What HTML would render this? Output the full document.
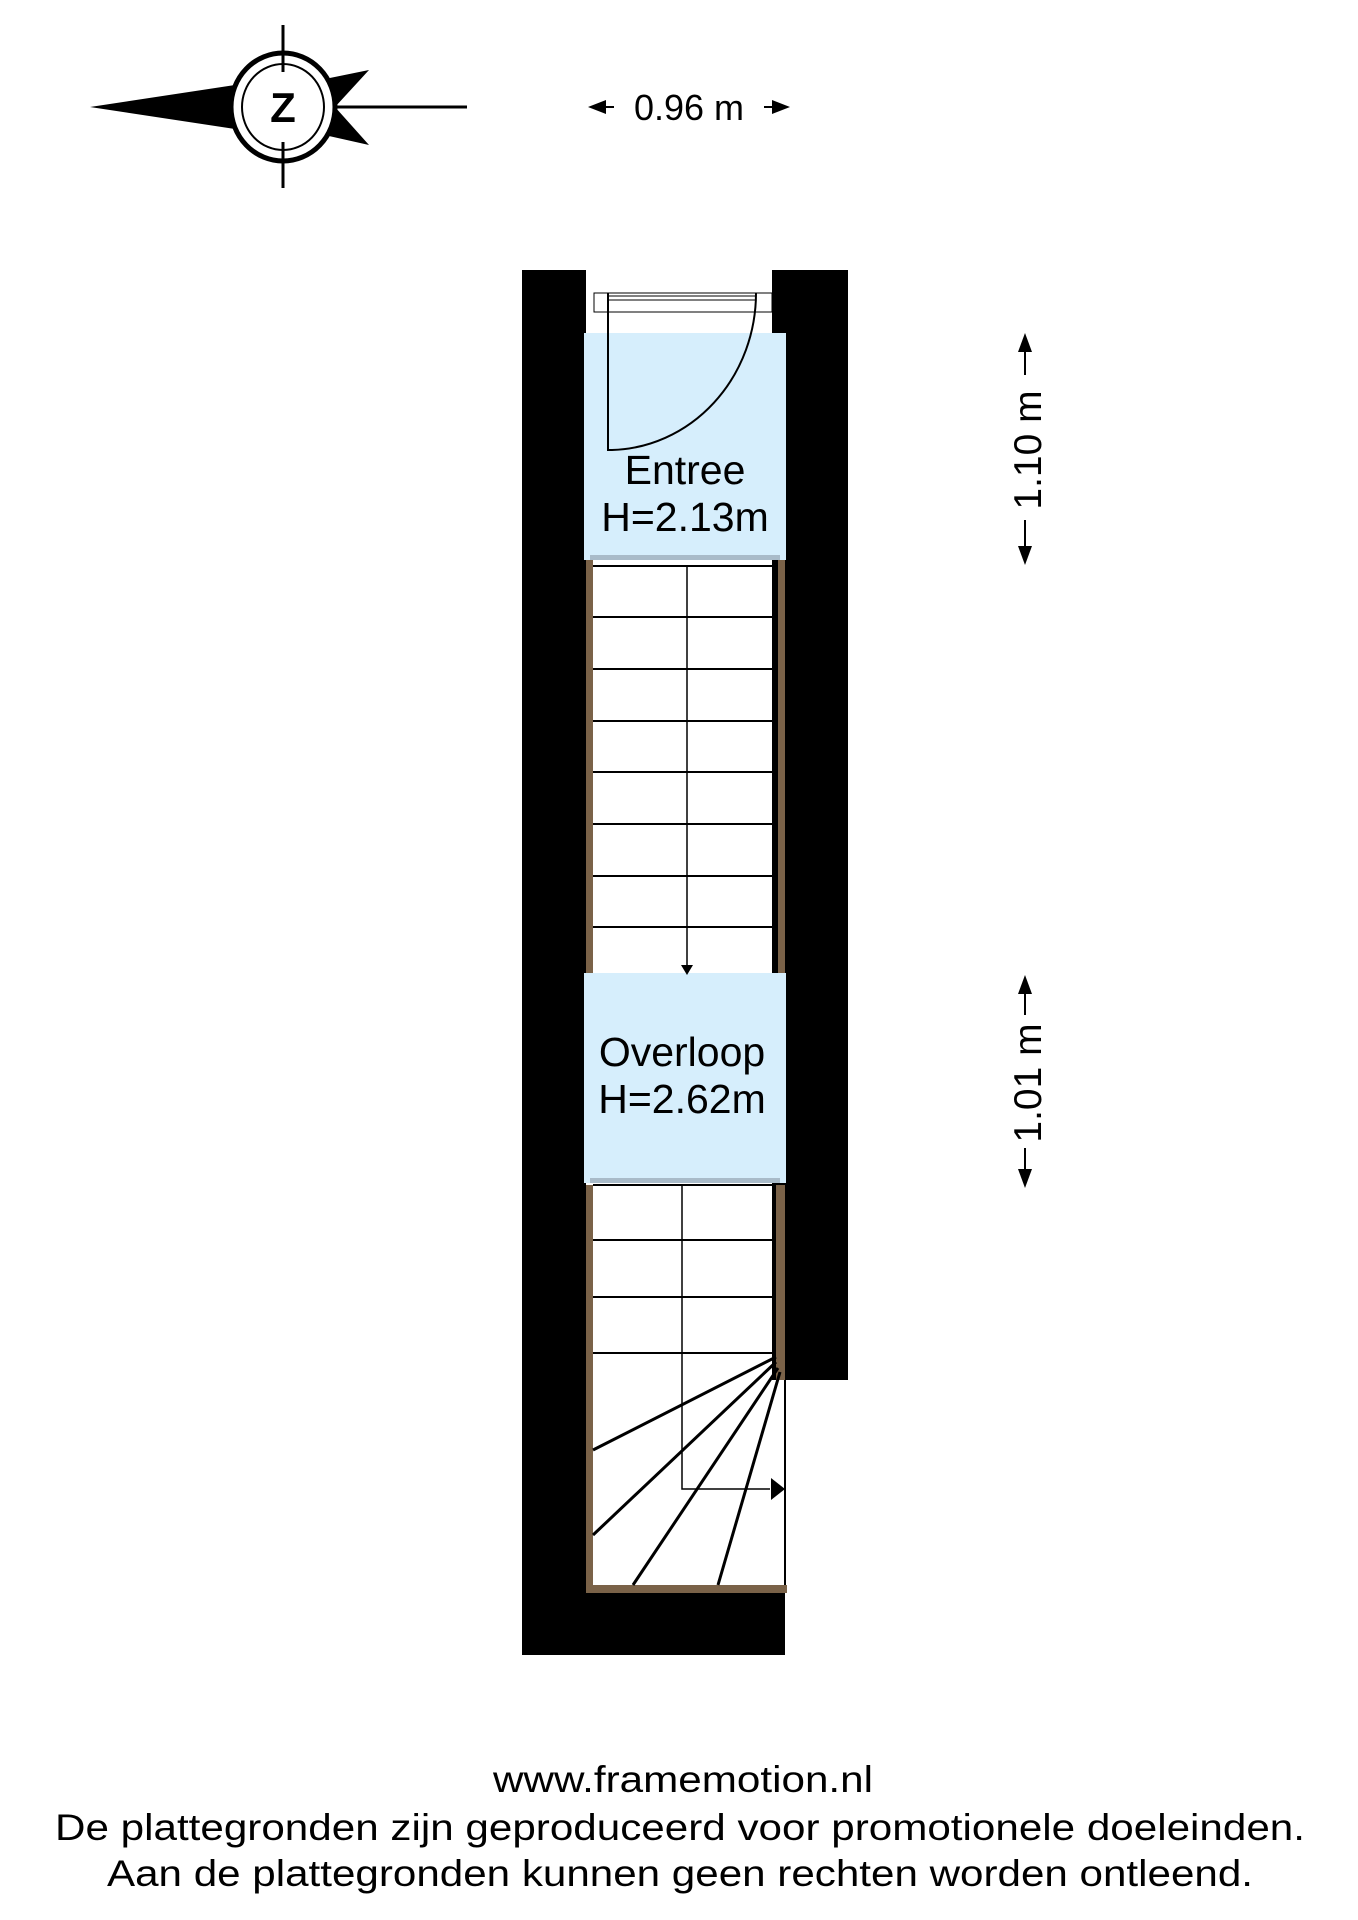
<!DOCTYPE html>
<html><head><meta charset="utf-8"><style>
html,body{margin:0;padding:0;background:#fff}
svg{display:block}
text{font-family:"Liberation Sans",sans-serif}
</style></head><body>
<svg width="1358" height="1920" viewBox="0 0 1358 1920" xmlns="http://www.w3.org/2000/svg">
<!-- compass -->
<line x1="283" y1="25" x2="283" y2="188" stroke="#000" stroke-width="3"/>
<polygon points="90,107 235,85 235,129" fill="#000"/>
<polygon points="320,80 369,70 335,107" fill="#000"/>
<polygon points="320,134 369,145 335,107" fill="#000"/>
<line x1="335" y1="107" x2="467" y2="107" stroke="#000" stroke-width="3"/>
<ellipse cx="283" cy="107" rx="52" ry="54" fill="#fff" stroke="#000" stroke-width="5"/>
<ellipse cx="283" cy="107" rx="41" ry="43" fill="none" stroke="#000" stroke-width="2"/>
<line x1="283" y1="50" x2="283" y2="72" stroke="#000" stroke-width="3"/>
<line x1="283" y1="142" x2="283" y2="165" stroke="#000" stroke-width="3"/>
<text x="283" y="122" font-size="42" font-weight="bold" text-anchor="middle">Z</text>
<!-- width dim -->
<polygon points="588,107 606,100 606,114" fill="#000"/><line x1="600" y1="107" x2="614" y2="107" stroke="#000" stroke-width="2"/>
<text x="689" y="120" font-size="36" text-anchor="middle">0.96 m</text>
<polygon points="790,107 772,100 772,114" fill="#000"/><line x1="764" y1="107" x2="778" y2="107" stroke="#000" stroke-width="2"/>
<!-- walls -->
<rect x="522" y="270" width="64" height="1385" fill="#000"/>
<rect x="522" y="1593" width="263" height="62" fill="#000"/>
<rect x="772" y="270" width="76" height="1110" fill="#000"/>
<rect x="586" y="270" width="186" height="63" fill="#fff"/>
<!-- door frame -->
<rect x="594" y="293" width="178" height="19" fill="#fff" stroke="#000" stroke-width="1"/>
<line x1="608" y1="296" x2="756" y2="296" stroke="#000" stroke-width="1"/>
<line x1="608" y1="300" x2="756" y2="300" stroke="#000" stroke-width="1"/>
<!-- rooms -->
<rect x="584" y="333" width="202" height="227" fill="#d6eefc"/>
<rect x="584" y="973" width="202" height="210" fill="#d6eefc"/>
<rect x="590" y="555" width="190" height="5" fill="#8a9aa6" opacity=".6"/>
<rect x="590" y="1178" width="190" height="5" fill="#8a9aa6" opacity=".6"/>
<!-- door -->
<path d="M608,293 L608,450 L612,450 A148,157 0 0 0 756,293" fill="none" stroke="#000" stroke-width="2"/>
<text x="685" y="484" font-size="41" text-anchor="middle">Entree</text>
<text x="685" y="531" font-size="41" text-anchor="middle">H=2.13m</text>
<text x="682" y="1066" font-size="41" text-anchor="middle">Overloop</text>
<text x="682" y="1113" font-size="41" text-anchor="middle">H=2.62m</text>
<!-- upper stairs -->
<rect x="586" y="560" width="7" height="413" fill="#7a6248"/>
<rect x="778" y="560" width="7" height="413" fill="#7a6248"/>
<g stroke="#000" stroke-width="2">
<line x1="593" y1="566" x2="778" y2="566"/>
<line x1="593" y1="617" x2="778" y2="617"/>
<line x1="593" y1="669" x2="778" y2="669"/>
<line x1="593" y1="721" x2="778" y2="721"/>
<line x1="593" y1="772" x2="778" y2="772"/>
<line x1="593" y1="824" x2="778" y2="824"/>
<line x1="593" y1="876" x2="778" y2="876"/>
<line x1="593" y1="927" x2="778" y2="927"/>
<line x1="687" y1="566" x2="687" y2="968" stroke-width="1.5"/>
</g>
<polygon points="681,965 693,965 687,975" fill="#000"/>
<!-- lower stairs -->
<rect x="586" y="1185" width="7" height="408" fill="#7a6248"/>
<rect x="776" y="1185" width="9" height="195" fill="#7a6248"/>
<rect x="586" y="1585" width="201" height="8" fill="#7a6248"/>
<line x1="785" y1="1380" x2="785" y2="1585" stroke="#000" stroke-width="2"/>
<g stroke="#000" stroke-width="2">
<line x1="593" y1="1185" x2="776" y2="1185"/>
<line x1="593" y1="1240" x2="776" y2="1240"/>
<line x1="593" y1="1297" x2="776" y2="1297"/>
<line x1="593" y1="1353" x2="776" y2="1353"/>
<line x1="776" y1="1357" x2="593" y2="1450" stroke-width="3"/>
<line x1="776" y1="1362" x2="593" y2="1535" stroke-width="3"/>
<line x1="778" y1="1368" x2="633" y2="1585" stroke-width="3"/>
<line x1="780" y1="1372" x2="718" y2="1585" stroke-width="3"/>
<polyline points="682,1185 682,1489 770,1489" fill="none" stroke-width="1.5"/>
</g>
<polygon points="771,1478 785,1489 771,1500" fill="#000"/>
<!-- vertical dims -->
<g transform="translate(1041,450) rotate(-90)"><text x="0" y="0" font-size="39" text-anchor="middle">1.10 m</text></g>
<polygon points="1025,333 1018,352 1032,352" fill="#000"/><line x1="1025" y1="350" x2="1025" y2="375" stroke="#000" stroke-width="2"/>
<polygon points="1025,565 1018,546 1032,546" fill="#000"/><line x1="1025" y1="520" x2="1025" y2="548" stroke="#000" stroke-width="2"/>
<g transform="translate(1041,1083) rotate(-90)"><text x="0" y="0" font-size="39" text-anchor="middle">1.01 m</text></g>
<polygon points="1025,975 1018,994 1032,994" fill="#000"/><line x1="1025" y1="992" x2="1025" y2="1015" stroke="#000" stroke-width="2"/>
<polygon points="1025,1188 1018,1169 1032,1169" fill="#000"/><line x1="1025" y1="1148" x2="1025" y2="1171" stroke="#000" stroke-width="2"/>
<!-- footer -->
<text x="683" y="1792" font-size="37" text-anchor="middle" textLength="380" lengthAdjust="spacingAndGlyphs">www.framemotion.nl</text>
<text x="680" y="1840" font-size="37" text-anchor="middle" textLength="1250" lengthAdjust="spacingAndGlyphs">De plattegronden zijn geproduceerd voor promotionele doeleinden.</text>
<text x="680" y="1886" font-size="37" text-anchor="middle" textLength="1146" lengthAdjust="spacingAndGlyphs">Aan de plattegronden kunnen geen rechten worden ontleend.</text>
</svg>
</body></html>
